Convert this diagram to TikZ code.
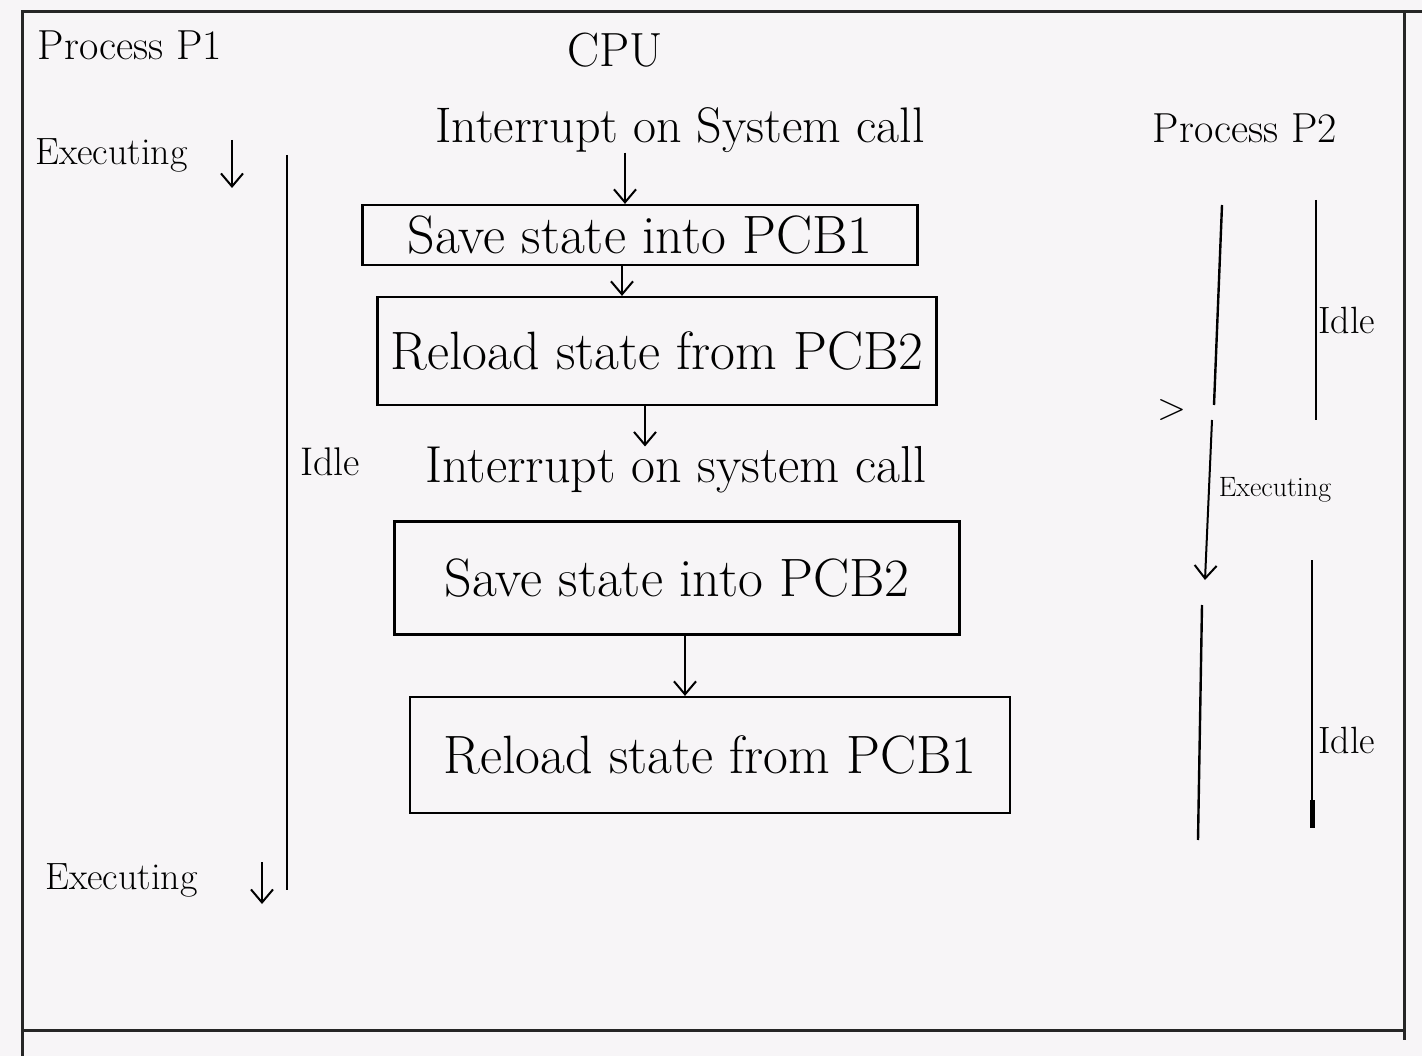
\documentclass[tikz,border=0pt]{standalone}
\usetikzlibrary{arrows.meta}
\begin{document}
\begin{tikzpicture}[x=1pt,y=-1pt,
  lbl/.style={inner sep=0pt, font=\fontsize{38}{42}\selectfont},
  big/.style={inner sep=0pt, font=\fontsize{50}{54}\selectfont},
  small/.style={inner sep=0pt, font=\fontsize{28}{32}\selectfont},
  stepbox/.style={draw, line width=2.2pt, inner sep=0pt, font=\fontsize{54}{58}\selectfont},
  arr/.style={line width=2pt, -{Straight Barb[length=13pt,width=22pt,line width=2pt]}},
  ln/.style={line width=2.4pt},
  frame/.style={line width=3pt, draw=black!85}]
\useasboundingbox (0,0) rectangle (1422,1056);
\fill[fill={rgb,255:red,247;green,245;blue,247}] (0,0) rectangle (1422,1056);
% frame
\draw[frame] (22,1056) -- (22,12) -- (1422,12);
\draw[frame] (1404,12) -- (1404,1040);
\draw[frame] (22,1030) -- (1404,1030);
% titles
\node[lbl, font=\fontsize{42}{46}\selectfont] (p1) at (130,45) {Process P1};
\node[big, font=\fontsize{48}{52}\selectfont] (cpu) at (615,50) {CPU};
\node[big] (int1) at (680,130) {Interrupt on System call};
\node[lbl, font=\fontsize{42}{46}\selectfont] (p2) at (1245,128) {Process P2};
% process 1
\node[lbl, anchor=west] (ex1) at (35,155) {Executing};
\coordinate (ex1a) at (232,140);
\coordinate (ex1b) at (232,188);
\draw[arr] (ex1a) -- (ex1b);
\coordinate (l1t) at (287,155);
\coordinate (l1b) at (287,890);
\draw[ln] (l1t) -- (l1b);
\node[lbl, font=\fontsize{40}{44}\selectfont] (idle1) at (330,462) {Idle};
\node[lbl, anchor=west] (ex2) at (45,880) {Executing};
\coordinate (ex2a) at (262,862);
\coordinate (ex2b) at (262,904);
\draw[arr] (ex2a) -- (ex2b);
% CPU boxes
\node[stepbox, minimum width=555pt, minimum height=60pt] (b1) at (640,235) {Save state into PCB1};
\node[stepbox, minimum width=559pt, minimum height=108pt] (b2) at (657,351) {Reload state from PCB2};
\node[big, font=\fontsize{52}{56}\selectfont] (int2) at (676,470) {Interrupt on system call};
\node[stepbox, minimum width=565pt, minimum height=113pt] (b3) at (677,578) {Save state into PCB2};
\node[stepbox, minimum width=600pt, minimum height=116pt] (b4) at (710,755) {Reload state from PCB1};
\draw[arr] ([xshift=-55pt]int1.south) -- ([xshift=-15pt]b1.north);
\draw[arr] ([xshift=-18pt]b1.south) -- ([xshift=-35pt]b2.north);
\draw[arr] ([xshift=-12pt]b2.south) -- ([xshift=-31pt]int2.north);
\draw[arr] ([xshift=8pt]b3.south) -- ([xshift=-25pt]b4.north);
% process 2
\coordinate (r1t) at (1222,205);
\coordinate (r1b) at (1214,405);
\coordinate (r2t) at (1212,420);
\coordinate (r2b) at (1205,580);
\coordinate (r3t) at (1202,605);
\coordinate (r3b) at (1198,840);
\draw[ln] (r1t) -- (r1b);
\draw[arr] (r2t) -- (r2b);
\draw[ln] (r3t) -- (r3b);
\node[lbl] (gt) at (1172,410) {>};
\coordinate (s1t) at (1316,200);
\coordinate (s1b) at (1316,420);
\coordinate (s2t) at (1312,560);
\coordinate (s2b) at (1312,828);
\draw[ln] (s1t) -- (s1b);
\draw[ln] (s2t) -- (s2b);
\draw[line width=5pt] (1312,800) -- (s2b);
\node[lbl, anchor=west] (idle2) at (1318,320) {Idle};
\node[lbl, anchor=west] (idle3) at (1318,740) {Idle};
\node[small] (ex3) at (1275,490) {Executing};
\end{tikzpicture}
\end{document}
